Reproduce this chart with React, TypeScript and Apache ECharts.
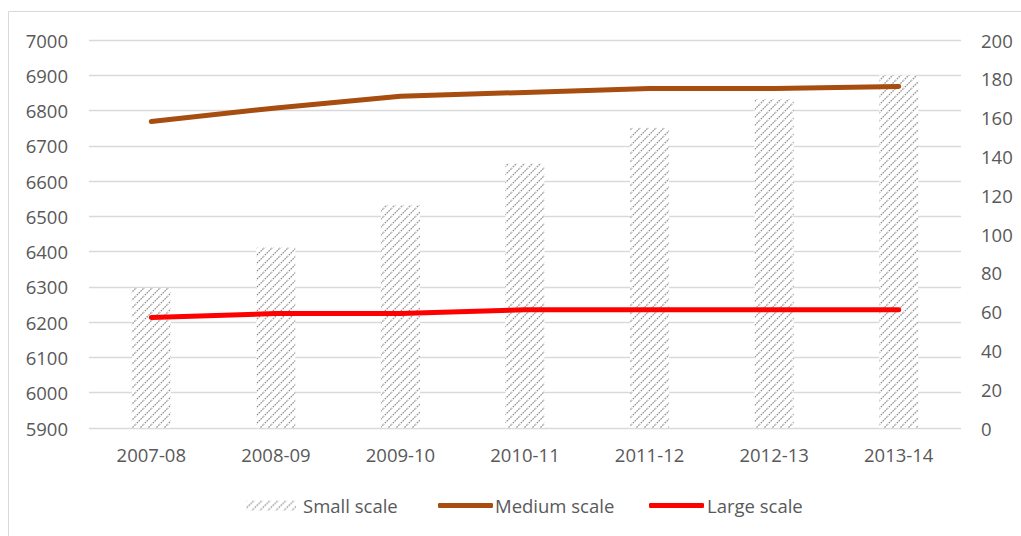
import React, { useEffect, useRef } from "react";
import * as echarts from "echarts";

const categories = ["2007-08", "2008-09", "2009-10", "2010-11", "2011-12", "2012-13", "2013-14"];
const smallScale = [6297, 6413, 6532, 6649, 6751, 6832, 6900];
const mediumScale = [158, 165, 171, 173, 175, 175, 176];
const largeScale = [57, 59, 59, 61, 61, 61, 61];

const FONT = "'Open Sans', 'Liberation Sans', sans-serif";
const TEXT = "#595959";
const GRID = "#d9d9d9";
const BROWN = "#A64D0F";
const RED = "#FF0000";
const FS = 18.5;

// Diagonal "/" hatch tile used for the bar fill.
function makeHatch(): HTMLCanvasElement {
  const size = 8;
  const c = document.createElement("canvas");
  c.width = size;
  c.height = size;
  const ctx = c.getContext("2d")!;
  ctx.fillStyle = "#ffffff";
  ctx.fillRect(0, 0, size, size);
  ctx.strokeStyle = "#8f8f8f";
  ctx.lineWidth = 1.3;
  ctx.setLineDash([1.6, 1.0]);
  ctx.beginPath();
  ctx.moveTo(-1, size + 1);
  ctx.lineTo(size + 1, -1);
  ctx.moveTo(-1, 1);
  ctx.lineTo(1, -1);
  ctx.moveTo(size - 1, size + 1);
  ctx.lineTo(size + 1, size - 1);
  ctx.stroke();
  return c;
}

export default function App() {
  const ref = useRef<HTMLDivElement>(null);

  useEffect(() => {
    if (!ref.current) return;
    const chart = echarts.init(ref.current, undefined, { renderer: "svg" });
    const hatch = { image: makeHatch(), repeat: "repeat" };
    const legendText = { color: TEXT, fontSize: FS, fontFamily: FONT };
    const legendBase = { top: 496, padding: 0, selectedMode: false };

    chart.setOption({
      animation: false,
      backgroundColor: "#ffffff",
      textStyle: { fontFamily: FONT },
      graphic: [
        {
          type: "rect",
          shape: { x: 8.5, y: 11.5, width: 1030, height: 540 },
          style: { fill: "none", stroke: GRID, lineWidth: 1 },
          silent: true,
          z: -10,
        },
      ],
      grid: { left: 89, right: 60, top: 40, bottom: 108 },
      legend: [
        {
          ...legendBase,
          data: ["Small scale"],
          left: 246,
          itemWidth: 50,
          itemHeight: 10,
          icon: "rect",
          textStyle: { ...legendText, padding: [0, 0, 0, 2] },
        },
        {
          ...legendBase,
          data: ["Medium scale"],
          left: 438,
          itemWidth: 55,
          itemHeight: 5,
          icon: "roundRect",
          textStyle: { ...legendText, padding: [0, 0, 0, -3] },
        },
        {
          ...legendBase,
          data: ["Large scale"],
          left: 649,
          itemWidth: 55,
          itemHeight: 5,
          icon: "roundRect",
          textStyle: { ...legendText, padding: [0, 0, 0, -2] },
        },
      ],
      xAxis: {
        type: "category",
        data: categories,
        axisTick: { show: false },
        axisLine: { show: false },
        axisLabel: { color: TEXT, fontSize: FS, fontFamily: FONT, margin: 17 },
      },
      yAxis: [
        {
          type: "value",
          min: 5900,
          max: 7000,
          interval: 100,
          axisLine: { show: false },
          axisTick: { show: false },
          axisLabel: {
            color: TEXT,
            fontSize: FS,
            fontFamily: FONT,
            margin: 21,
            formatter: (v: number) => String(v),
          },
          splitLine: { lineStyle: { color: GRID, width: 1.3 } },
        },
        {
          type: "value",
          min: 0,
          max: 200,
          interval: 20,
          axisLine: { show: false },
          axisTick: { show: false },
          axisLabel: {
            color: TEXT,
            fontSize: FS,
            fontFamily: FONT,
            margin: 20,
            formatter: (v: number) => String(v),
          },
          splitLine: { show: false },
        },
      ],
      series: [
        {
          name: "Small scale",
          type: "bar",
          data: smallScale,
          yAxisIndex: 0,
          barWidth: 39,
          itemStyle: { color: hatch },
        },
        {
          name: "Medium scale",
          type: "line",
          data: mediumScale,
          yAxisIndex: 1,
          showSymbol: false,
          symbol: "none",
          lineStyle: { color: BROWN, width: 5, cap: "round", join: "round" },
          itemStyle: { color: BROWN },
        },
        {
          name: "Large scale",
          type: "line",
          data: largeScale,
          yAxisIndex: 1,
          showSymbol: false,
          symbol: "none",
          lineStyle: { color: RED, width: 5, cap: "round", join: "round" },
          itemStyle: { color: RED },
        },
      ],
    });

    return () => chart.dispose();
  }, []);

  return (
    <div
      ref={ref}
      style={{ position: "absolute", left: 0, top: 0, width: 1021, height: 536 }}
    />
  );
}
